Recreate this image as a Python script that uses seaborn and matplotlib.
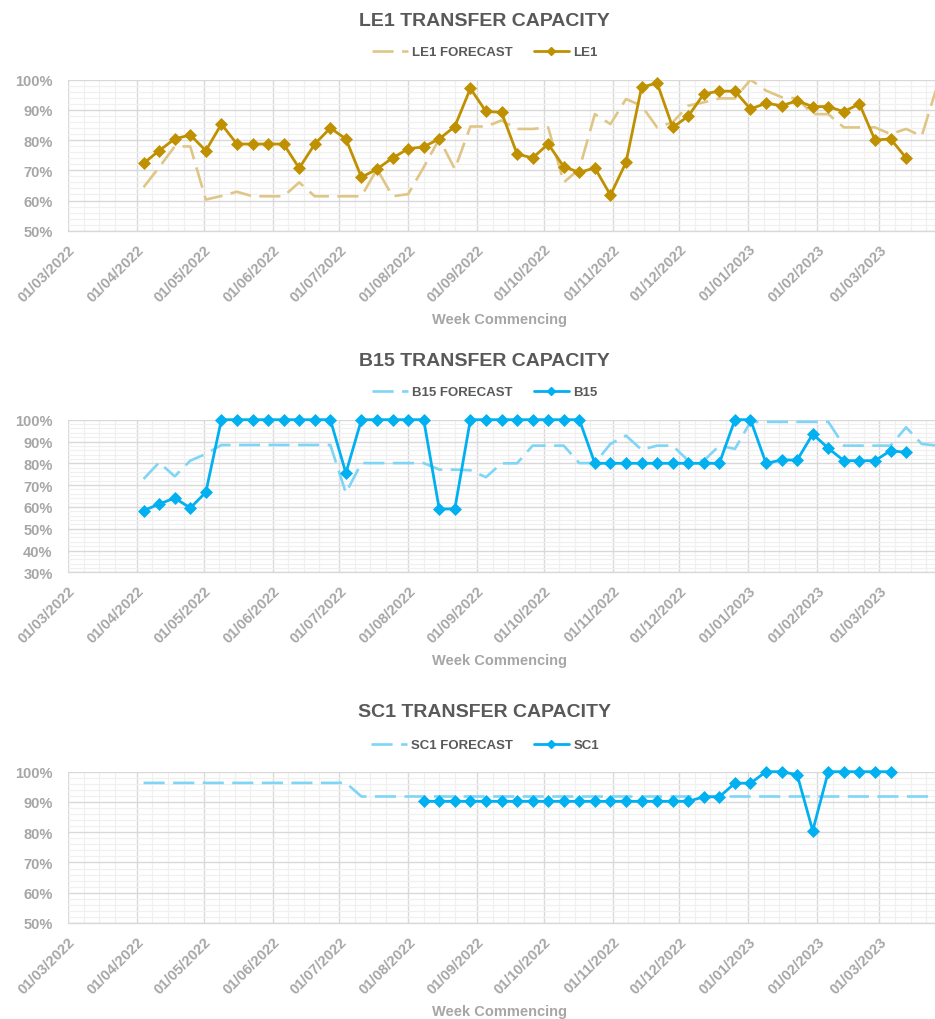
import pandas as pd
import numpy as np
import matplotlib
matplotlib.use('Agg')
import matplotlib.pyplot as plt
import matplotlib.dates as mdates
from matplotlib.ticker import MultipleLocator, FuncFormatter
from matplotlib.lines import Line2D
import seaborn as sns

# weekly data, week commencing Mondays
forecast_start = '2022-04-04'
le1_start = '2022-04-04'
b15_start = '2022-04-04'
sc1_start = '2022-08-08'

le1_forecast = [64.4, 71.0, 77.9, 77.9, 60.3, 61.5, 62.9, 61.4, 61.4, 61.4,
                66.0, 61.4, 61.4, 61.4, 61.4, 70.4, 61.4, 62.1, 71.0, 80.4,
                70.4, 84.5, 84.5, 86.5, 83.7, 83.7, 84.2, 66.0, 70.4, 88.6,
                85.3, 93.6, 91.4, 84.2, 85.9, 91.4, 92.5, 93.8, 93.8, 100.0,
                96.4, 94.2, 93.8, 88.6, 88.6, 84.2, 84.2, 84.2, 82.0, 83.7,
                81.3, 98.0]
le1_actual = [72.3, 76.5, 80.4, 81.7, 76.5, 85.3, 78.7, 78.7, 78.7, 78.7,
              70.7, 78.7, 84.0, 80.4, 67.7, 70.4, 74.1, 77.1, 77.8, 80.4,
              84.5, 97.1, 89.5, 89.2, 75.4, 74.1, 78.7, 71.2, 69.3, 70.8,
              61.8, 72.6, 97.5, 98.9, 84.2, 87.9, 95.3, 96.2, 96.2, 90.3,
              92.2, 91.4, 93.0, 91.1, 91.1, 89.4, 92.0, 80.0, 80.4, 74.1]

b15_forecast = [72.8, 80.4, 74.0, 81.2, 84.3, 88.4, 88.4, 88.4, 88.4, 88.4,
                88.4, 88.4, 88.4, 66.4, 80.1, 80.1, 80.1, 80.1, 80.1, 77.1,
                77.1, 76.8, 73.6, 80.0, 80.0, 88.1, 88.1, 88.1, 80.1, 80.1,
                88.9, 92.7, 86.2, 88.1, 88.1, 81.2, 81.2, 88.1, 86.6, 99.0,
                99.0, 99.0, 99.0, 99.0, 99.0, 88.1, 88.1, 88.1, 88.1, 96.5,
                88.9, 88.1]
b15_actual = [58.3, 61.3, 64.1, 59.5, 66.7, 100, 100, 100, 100, 100,
              100, 100, 100, 75.5, 100, 100, 100, 100, 100, 59.0,
              59.1, 100, 100, 100, 100, 100, 100, 100, 100, 80.0,
              80.0, 80.0, 80.0, 80.0, 80.0, 80.0, 80.0, 80.0, 100, 100,
              80.0, 81.5, 81.5, 93.4, 86.9, 81.2, 81.2, 81.2, 85.8, 85.0]

sc1_forecast = [96.3] * 14 + [91.8] * 38
sc1_actual = [90.2] * 18 + [91.7, 91.7, 96.2, 96.2, 100, 100, 99.0, 80.5,
                            100, 100, 100, 100, 100]

GOLD = '#BF9000'
GOLD_LIGHT = '#DFC686'
BLUE = '#00B0F0'
BLUE_LIGHT = '#7FD5F5'
TITLE_C = '#595959'
LABEL_C = '#A6A6A6'

W, H = 935, 1020

sns.set_theme(style='white')
plt.rcParams['font.family'] = ['Liberation Sans', 'DejaVu Sans']

fig = plt.figure(figsize=(W / 100, H / 100), dpi=100)


def draw_panel(name, fc, act, act_start, dark, light, ymin,
               top_px, bottom_px, title_px, legend_px, xlabel_px):
    ax = fig.add_axes([68 / W, 1 - bottom_px / H, (W - 68) / W,
                       (bottom_px - top_px) / H])
    fc_dates = pd.date_range(forecast_start, periods=len(fc), freq='7D')
    act_dates = pd.date_range(act_start, periods=len(act), freq='7D')

    sns.lineplot(x=fc_dates, y=fc, ax=ax, color=light, lw=1.9,
                 linestyle=(0, (8, 3.2)), zorder=3)
    sns.lineplot(x=act_dates, y=act, ax=ax, color=dark, lw=2.0,
                 marker='D', markersize=6.3, markeredgecolor=dark,
                 markeredgewidth=0.5, zorder=4, clip_on=False)

    ax.set_xlim(pd.Timestamp('2022-03-01'), pd.Timestamp('2023-03-26'))
    ax.set_ylim(ymin, 100)

    ax.xaxis.set_major_locator(mdates.MonthLocator())
    ax.xaxis.set_major_formatter(mdates.DateFormatter('%d/%m/%Y'))
    ax.xaxis.set_minor_locator(mdates.DayLocator(bymonthday=[8, 15, 22]))
    ax.yaxis.set_major_locator(MultipleLocator(10))
    ax.yaxis.set_minor_locator(MultipleLocator(2))
    ax.yaxis.set_major_formatter(FuncFormatter(lambda v, p: f'{int(round(v))}%'))

    ax.grid(which='major', color='#D9D9D9', lw=1.0, zorder=0)
    ax.grid(which='minor', color='#F0F0F0', lw=0.9, zorder=0)
    ax.set_axisbelow(True)

    for s in ['top', 'right', 'left']:
        ax.spines[s].set_visible(False)
    ax.spines['bottom'].set_color('#D9D9D9')
    ax.spines['bottom'].set_linewidth(1.0)

    ax.tick_params(axis='x', which='major', length=4, color='#D9D9D9',
                   labelsize=10.5, labelcolor=LABEL_C, pad=4)
    ax.tick_params(axis='x', which='minor', length=0)
    ax.tick_params(axis='y', which='both', length=0, labelsize=10.5,
                   labelcolor=LABEL_C, pad=11)
    for lab in ax.get_xticklabels():
        lab.set_rotation(45)
        lab.set_ha('right')
        lab.set_va('top')
        lab.set_rotation_mode('anchor')
        lab.set_fontweight('bold')
    for lab in ax.get_yticklabels():
        lab.set_fontweight('bold')
    ax.set_xlabel('')
    ax.set_ylabel('')

    fig.text(484 / W, 1 - title_px / H, f'{name} TRANSFER CAPACITY',
             ha='center', va='center', fontsize=14, fontweight='bold',
             color=TITLE_C)
    handles = [Line2D([], [], color=light, lw=1.9, linestyle=(0, (8, 3.2))),
               Line2D([], [], color=dark, lw=2.0, marker='D', markersize=4)]
    fig.legend(handles, [f'{name} FORECAST', name], loc='center',
               bbox_to_anchor=(485 / W, 1 - legend_px / H), ncol=2,
               frameon=False, handlelength=2.7, handletextpad=0.3,
               columnspacing=1.6, prop={'weight': 'bold', 'size': 9.5},
               labelcolor=TITLE_C)
    fig.text(500 / W, 1 - xlabel_px / H, 'Week Commencing', ha='center',
             va='center', fontsize=10.5, fontweight='bold', color=LABEL_C)
    return ax


draw_panel('LE1', le1_forecast, le1_actual, le1_start, GOLD, GOLD_LIGHT, 50,
           80.7, 231.7, 21, 53, 320)
draw_panel('B15', b15_forecast, b15_actual, b15_start, BLUE, BLUE_LIGHT, 30,
           420.7, 573.3, 361, 393, 661)
draw_panel('SC1', sc1_forecast, sc1_actual, sc1_start, BLUE, BLUE_LIGHT, 50,
           772.7, 924, 713, 746, 1012)

fig.savefig('out.png', dpi=100)
